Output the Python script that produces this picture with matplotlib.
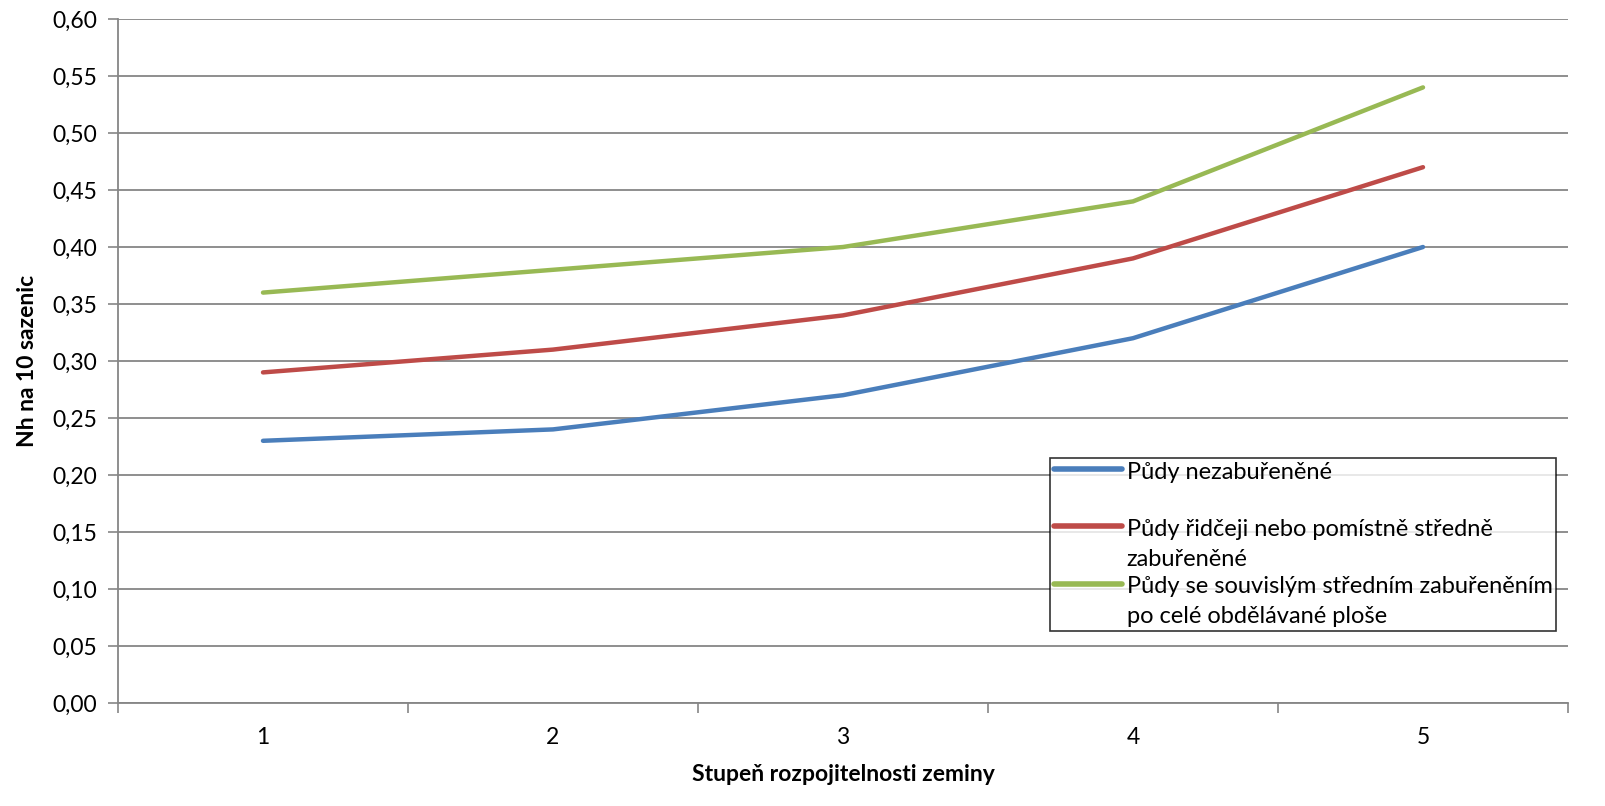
import matplotlib
matplotlib.use("Agg")
import matplotlib.pyplot as plt
from matplotlib.legend_handler import HandlerLine2D
from matplotlib.lines import Line2D
from matplotlib.ticker import FuncFormatter, MultipleLocator

categories = [1, 2, 3, 4, 5]
nezaburenene = [0.23, 0.24, 0.27, 0.32, 0.40]
ridceji = [0.29, 0.31, 0.34, 0.39, 0.47]
souvisle = [0.36, 0.38, 0.40, 0.44, 0.54]
labels = ["Půdy nezabuřeněné\n ",
          "Půdy řidčeji nebo pomístně středně\nzabuřeněné",
          "Půdy se souvislým středním zabuřeněním\npo celé obdělávané ploše"]
colors = ["#4A7EBB", "#BE4B48", "#98B954"]

plt.rcParams['font.family'] = ['Lato', 'DejaVu Sans']

fig = plt.figure(figsize=(16.06, 8.06), dpi=100)
ax = fig.add_axes([118/1606, 1-703/806, (1568-118)/1606, (703-19)/806])

x = list(range(len(categories)))
for ys, c, lab in zip([nezaburenene, ridceji, souvisle], colors, labels):
    ax.plot(x, ys, color=c, lw=3.2, label=lab, solid_capstyle='round', solid_joinstyle='round')

ax.set_xlim(-0.5, len(categories) - 0.5)
ax.set_ylim(0, 0.6)
ax.yaxis.set_major_locator(MultipleLocator(0.05))
ax.yaxis.set_major_formatter(FuncFormatter(lambda v, p: f"{v:.2f}".replace(".", ",")))
ax.set_xticks(x)
ax.set_xticklabels([str(c) for c in categories])
ax.set_xticks([i - 0.5 for i in range(len(categories) + 1)], minor=True)
ax.tick_params(axis='x', which='major', length=0, pad=17, labelsize=16.5)
ax.tick_params(axis='x', which='minor', length=7, width=1.2, color='#868686')
ax.tick_params(axis='y', length=7, width=1.2, color='#868686', labelsize=16.5, pad=8)
ax.grid(axis='y', color='#868686', lw=1.3)
ax.set_axisbelow(True)
for s in ['top', 'right']:
    ax.spines[s].set_visible(False)
for s in ['left', 'bottom']:
    ax.spines[s].set_color('#868686')
    ax.spines[s].set_linewidth(1.3)

ax.set_xlabel("Stupeň rozpojitelnosti zeminy", fontsize=16.5, fontweight='bold', labelpad=12)
ax.set_ylabel("Nh na 10 sazenic", fontsize=16.5, fontweight='bold', labelpad=10)


class TopHandler(HandlerLine2D):
    def create_artists(self, legend, orig_handle, xdescent, ydescent, width, height, fontsize, trans):
        arts = super().create_artists(legend, orig_handle, xdescent, ydescent, width, height, fontsize, trans)
        for a in arts:
            if isinstance(a, Line2D):
                y = a.get_ydata()
                a.set_ydata([v + 0.78 * fontsize for v in y])
        return arts


leg = ax.legend(loc='upper left', bbox_to_anchor=((1050-118)/1450, (703-458)/684),
                fontsize=17, frameon=True, fancybox=False, edgecolor='black',
                handlelength=2.9, handletextpad=0.2, labelspacing=0.25,
                borderpad=0.15, borderaxespad=0, handler_map={Line2D: TopHandler()})
leg.get_frame().set_linewidth(1.2)
for t in leg.get_texts():
    t.set_linespacing(1.55)
for h in leg.get_lines():
    h.set_linewidth(4)

fig.savefig("out.png", dpi=100)
